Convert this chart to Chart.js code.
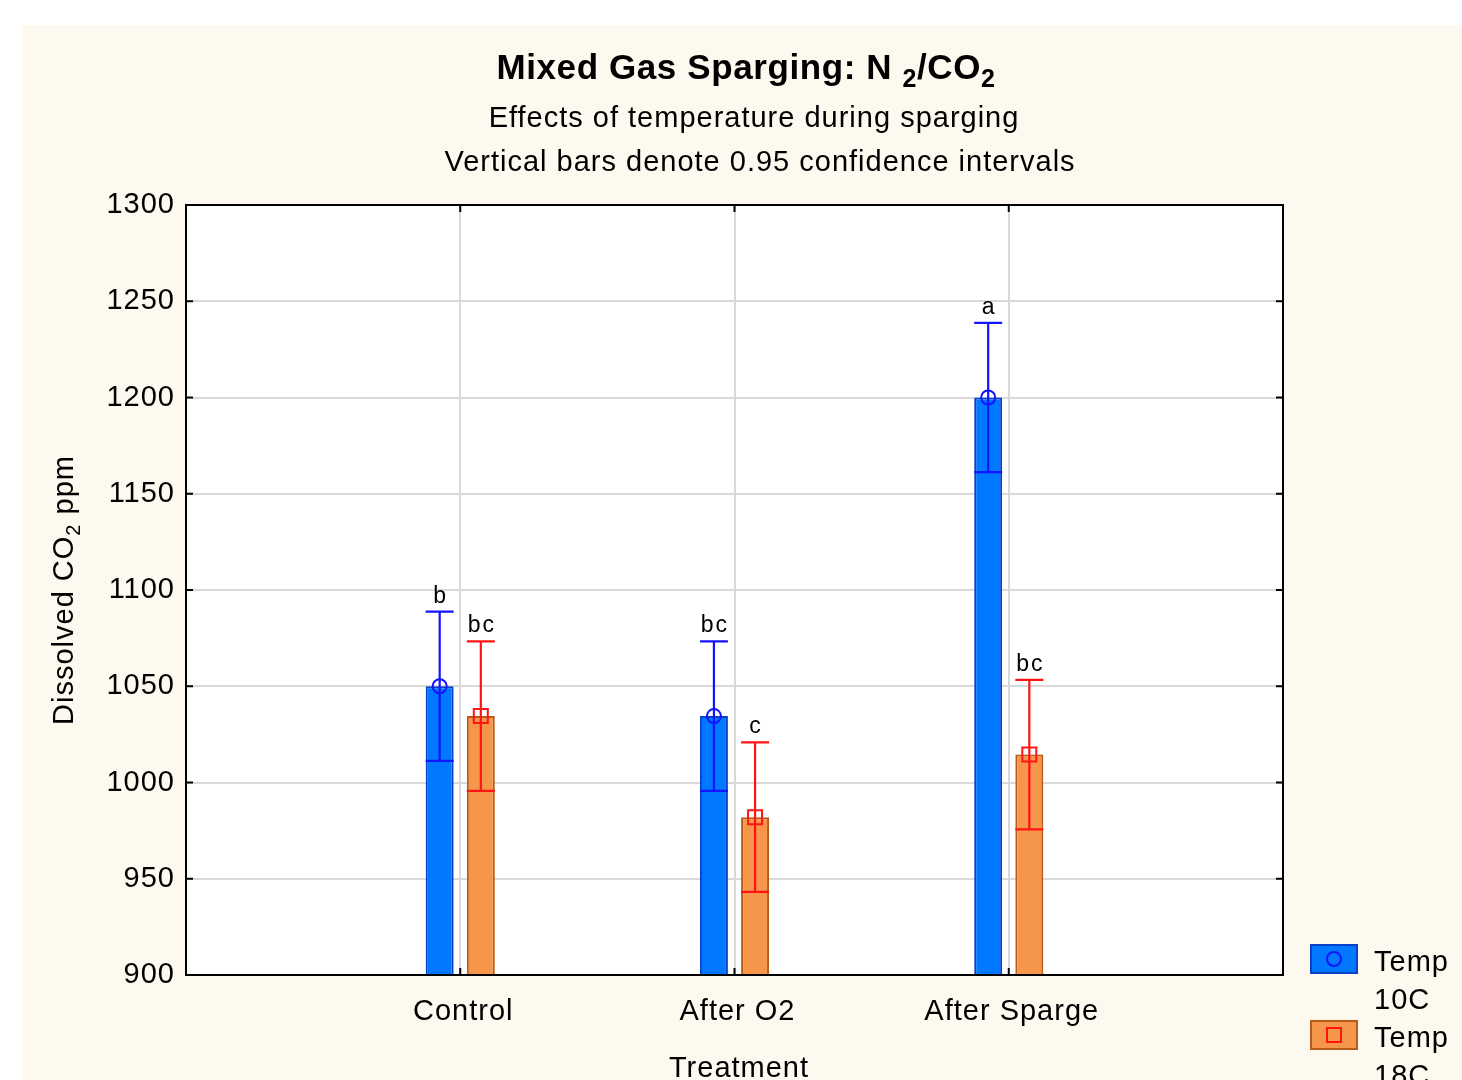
<!DOCTYPE html>
<html lang="en">
<head>
  <meta charset="UTF-8">
  <title>Mixed Gas Sparging</title>
  <style>
    body { margin: 0; background: #ffffff; }
    #sparge { display: block; }
  </style>
  <script src="https://cdn.jsdelivr.net/npm/chart.js"></script>
</head>
<body>
  <canvas id="sparge" width="1462" height="1080"></canvas>

  <script>
    // blank slots at both ends keep the three treatments evenly spaced inside the frame
    const categories = ['', 'Control', 'After O2', 'After Sparge', ''];
    const temp10Means = [null, 1050, 1034.5, 1200, null];
    const temp18Means = [null, 1034.5, 982, 1014.5, null];
    const temp10Ci = [null, 38.8, 38.8, 38.8, null];
    const temp18Ci = [null, 38.8, 38.8, 38.8, null];
    const temp10Letters = [null, 'b', 'bc', 'a', null];
    const temp18Letters = [null, 'bc', 'c', 'bc', null];
    const yTicks = [900, 950, 1000, 1050, 1100, 1150, 1200, 1250, 1300];

    const FONT = '"Liberation Sans", Arial, sans-serif';
    const CREAM = '#fdf9ef';
    const SPACING = '1px';
    const TXT = 29;

    const series = [
      { label: 'Temp 10C', fill: '#0078ff', edge: '#0840c8', line: '#1414ff', marker: 'circle' },
      { label: 'Temp 18C', fill: '#f5964a', edge: '#b85a18', line: '#ff1414', marker: 'square' }
    ];
    const ciSets = [temp10Ci, temp18Ci];
    const letterSets = [temp10Letters, temp18Letters];

    // draws a run of text pieces, some of them subscripts, centred on cx
    function drawRich(ctx, parts, cx, y, spacing) {
      ctx.letterSpacing = spacing;
      let total = 0;
      parts.forEach(p => { ctx.font = p.font; total += ctx.measureText(p.text).width; });
      let x = cx - total / 2;
      ctx.textAlign = 'left';
      parts.forEach(p => {
        ctx.font = p.font;
        ctx.fillText(p.text, x, y + (p.dy || 0));
        x += ctx.measureText(p.text).width;
      });
    }

    function drawMarker(ctx, kind, x, y, color) {
      ctx.strokeStyle = color;
      ctx.lineWidth = 2;
      ctx.beginPath();
      if (kind === 'circle') ctx.arc(x, y, 7, 0, Math.PI * 2);
      else ctx.rect(x - 7, y - 7, 14, 14);
      ctx.stroke();
    }

    const decor = {
      id: 'decor',
      beforeDraw(chart) {
        const ctx = chart.ctx;
        const a = chart.chartArea;
        ctx.save();
        ctx.fillStyle = CREAM;
        ctx.fillRect(22, 25, chart.width - 22, chart.height - 25);
        ctx.fillStyle = '#ffffff';
        ctx.fillRect(a.left, a.top, a.right - a.left, a.bottom - a.top);
        ctx.restore();
        // slightly open tracking for the tick labels too
        ctx.letterSpacing = SPACING;
      },
      afterDatasetsDraw(chart) {
        const ctx = chart.ctx;
        const a = chart.chartArea;
        const xs = chart.scales.x;
        const ys = chart.scales.y;
        ctx.save();
        ctx.letterSpacing = '0px';

        // frame and short inward ticks
        ctx.strokeStyle = '#000000';
        ctx.lineWidth = 2;
        ctx.strokeRect(a.left, a.top, a.right - a.left, a.bottom - a.top);
        ctx.beginPath();
        yTicks.forEach(v => {
          const py = ys.getPixelForValue(v);
          ctx.moveTo(a.left, py); ctx.lineTo(a.left + 7, py);
          ctx.moveTo(a.right, py); ctx.lineTo(a.right - 7, py);
        });
        categories.forEach((c, i) => {
          const px = xs.getPixelForValue(i);
          ctx.moveTo(px, a.bottom); ctx.lineTo(px, a.bottom - 7);
          ctx.moveTo(px, a.top); ctx.lineTo(px, a.top + 7);
        });
        ctx.stroke();

        // confidence intervals, mean markers and group letters
        chart.data.datasets.forEach((ds, d) => {
          const meta = chart.getDatasetMeta(d);
          const s = series[d];
          ds.data.forEach((v, i) => {
            if (v === null) return;
            const bar = meta.data[i];
            const half = bar.width / 2;
            const ci = ciSets[d][i];
            const top = ys.getPixelForValue(v + ci);
            const bot = ys.getPixelForValue(v - ci);
            ctx.strokeStyle = s.line;
            ctx.lineWidth = 2.2;
            ctx.beginPath();
            ctx.moveTo(bar.x, top); ctx.lineTo(bar.x, bot);
            ctx.moveTo(bar.x - half, top); ctx.lineTo(bar.x + half, top);
            ctx.moveTo(bar.x - half, bot); ctx.lineTo(bar.x + half, bot);
            ctx.stroke();
            drawMarker(ctx, s.marker, bar.x, ys.getPixelForValue(v), s.line);

            ctx.fillStyle = '#000000';
            ctx.font = '23px ' + FONT;
            ctx.textAlign = 'center';
            ctx.textBaseline = 'alphabetic';
            ctx.letterSpacing = '2px';
            ctx.fillText(letterSets[d][i], bar.x + 1, top - 9);
            ctx.letterSpacing = '0px';
          });
        });
        ctx.restore();
      },
      afterDraw(chart) {
        const ctx = chart.ctx;
        ctx.save();
        ctx.fillStyle = '#000000';
        ctx.textBaseline = 'alphabetic';

        const bold = size => 'bold ' + size + 'px ' + FONT;
        const reg = size => size + 'px ' + FONT;
        drawRich(ctx, [
          { text: 'Mixed Gas Sparging: N ', font: bold(35) },
          { text: '2', font: bold(25), dy: 8 },
          { text: '/CO', font: bold(35) },
          { text: '2', font: bold(25), dy: 8 }
        ], 746, 79, '0.6px');
        drawRich(ctx, [{ text: 'Effects of temperature during sparging', font: reg(TXT) }], 754, 127, SPACING);
        drawRich(ctx, [{ text: 'Vertical bars denote 0.95 confidence intervals', font: reg(TXT) }], 760, 171, SPACING);
        drawRich(ctx, [{ text: 'Treatment', font: reg(TXT) }], 739, 1077, SPACING);

        // rotated y axis title
        ctx.save();
        ctx.translate(73, 590);
        ctx.rotate(-Math.PI / 2);
        drawRich(ctx, [
          { text: 'Dissolved CO', font: reg(TXT) },
          { text: '2', font: reg(20), dy: 7 },
          { text: ' ppm', font: reg(TXT) }
        ], 0, 0, SPACING);
        ctx.restore();

        // legend swatches to the right of the frame
        series.forEach((s, k) => {
          const top = 944 + k * 76;
          ctx.fillStyle = s.fill;
          ctx.fillRect(1310, top, 48, 30);
          ctx.strokeStyle = s.edge;
          ctx.lineWidth = 2;
          ctx.strokeRect(1311, top + 1, 46, 28);
          drawMarker(ctx, s.marker, 1334, top + 15, s.line);
          ctx.fillStyle = '#000000';
          ctx.font = reg(TXT);
          ctx.textAlign = 'left';
          ctx.letterSpacing = SPACING;
          const words = s.label.split(' ');
          ctx.fillText(words[0], 1374, top + 27);
          ctx.fillText(words[1], 1374, top + 65);
        });
        ctx.restore();
      }
    };

    new Chart(document.getElementById('sparge'), {
      type: 'bar',
      data: {
        labels: categories,
        datasets: [
          {
            label: series[0].label,
            data: temp10Means,
            backgroundColor: series[0].fill,
            borderColor: series[0].edge,
            borderWidth: 2
          },
          {
            label: series[1].label,
            data: temp18Means,
            backgroundColor: series[1].fill,
            borderColor: series[1].edge,
            borderWidth: 2
          }
        ]
      },
      options: {
        responsive: false,
        animation: false,
        categoryPercentage: 0.3,
        barPercentage: 0.68,
        layout: { padding: { left: 0, right: 179, top: 205, bottom: 0 } },
        plugins: {
          legend: { display: false },
          tooltip: { enabled: false },
          title: { display: false }
        },
        scales: {
          x: {
            offset: false,
            grid: { color: '#d9d9d9', lineWidth: 2, drawTicks: false, offset: false },
            border: { display: false },
            ticks: {
              color: '#000000',
              font: { family: FONT, size: TXT },
              padding: 20,
              labelOffset: 3,
              maxRotation: 0,
              autoSkip: false
            },
            afterFit(scale) { scale.height = 105; }
          },
          y: {
            min: 900,
            max: 1300,
            grid: { color: '#d9d9d9', lineWidth: 2, drawTicks: false },
            border: { display: false },
            ticks: {
              stepSize: 50,
              color: '#000000',
              font: { family: FONT, size: TXT },
              padding: 11,
              callback: v => String(v)
            },
            afterFit(scale) { scale.width = 186; }
          }
        }
      },
      plugins: [decor]
    });
  </script>
</body>
</html>
